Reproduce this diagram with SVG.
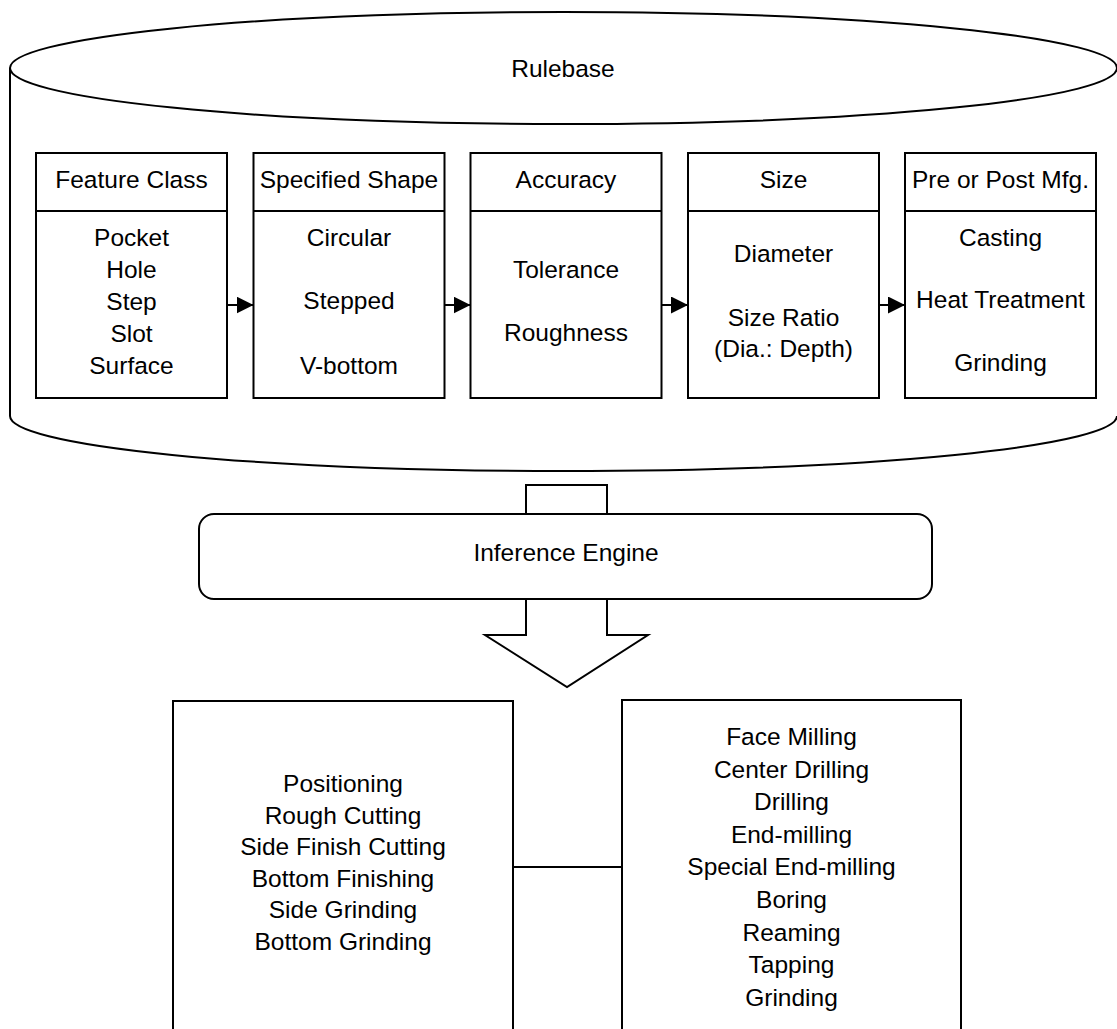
<svg xmlns="http://www.w3.org/2000/svg" width="1117" height="1029" viewBox="0 0 1117 1029">
  <style>
    .ln { fill: none; stroke: #000; stroke-width: 2; }
    .bx { fill: #fff; stroke: #000; stroke-width: 2; }
    text { font-family: "Liberation Sans", Arial, sans-serif; font-size: 24.5px; fill: #000; text-anchor: middle; }
  </style>
  <defs>
    <marker id="tri" viewBox="0 0 17 17" refX="17" refY="8.5" markerWidth="17" markerHeight="17" markerUnits="userSpaceOnUse" orient="auto">
      <path d="M0,0 L17,8.5 L0,17 Z" fill="#000"/>
    </marker>
  </defs>

  <rect width="1117" height="1029" fill="#fff"/>

  <!-- Rulebase cylinder (right side runs off the page edge) -->
  <g id="rulebase">
    <path class="ln" d="M10,68 A553.5,56 0 0 1 1117,68 A553.5,56 0 0 1 10,68 Z"/>
    <path class="ln" d="M10,68 V416 A553.5,55 0 0 0 1117,416"/>
    <text x="563" y="77">Rulebase</text>
  </g>

  <!-- Rule tables -->
  <g id="feature-class">
    <rect class="bx" x="36" y="153" width="191" height="245"/>
    <line class="ln" x1="36" y1="211" x2="227" y2="211"/>
    <text x="131.5" y="188">Feature Class</text>
    <text x="131.5" y="246">Pocket</text>
    <text x="131.5" y="278">Hole</text>
    <text x="131.5" y="310">Step</text>
    <text x="131.5" y="342">Slot</text>
    <text x="131.5" y="374">Surface</text>
  </g>

  <g id="specified-shape">
    <rect class="bx" x="253.5" y="153" width="191" height="245"/>
    <line class="ln" x1="253.5" y1="211" x2="444.5" y2="211"/>
    <text x="349" y="188">Specified Shape</text>
    <text x="349" y="246">Circular</text>
    <text x="349" y="309">Stepped</text>
    <text x="349" y="374">V-bottom</text>
  </g>

  <g id="accuracy">
    <rect class="bx" x="470.5" y="153" width="191" height="245"/>
    <line class="ln" x1="470.5" y1="211" x2="661.5" y2="211"/>
    <text x="566" y="188">Accuracy</text>
    <text x="566" y="278">Tolerance</text>
    <text x="566" y="341">Roughness</text>
  </g>

  <g id="size">
    <rect class="bx" x="688" y="153" width="191" height="245"/>
    <line class="ln" x1="688" y1="211" x2="879" y2="211"/>
    <text x="783.5" y="188">Size</text>
    <text x="783.5" y="262">Diameter</text>
    <text x="783.5" y="326">Size Ratio</text>
    <text x="783.5" y="357">(Dia.: Depth)</text>
  </g>

  <g id="pre-post-mfg">
    <rect class="bx" x="905" y="153" width="191" height="245"/>
    <line class="ln" x1="905" y1="211" x2="1096" y2="211"/>
    <text x="1000.5" y="188">Pre or Post Mfg.</text>
    <text x="1000.5" y="246">Casting</text>
    <text x="1000.5" y="308">Heat Treatment</text>
    <text x="1000.5" y="371">Grinding</text>
  </g>

  <!-- Inference engine with link from the rulebase -->
  <g id="inference-engine">
    <path class="ln" d="M526,514 V485 H607 V514"/>
    <rect class="bx" x="199" y="514" width="733" height="85" rx="15" ry="15"/>
    <text x="566" y="561">Inference Engine</text>
  </g>

  <!-- Output operations -->
  <g id="operations">
    <rect class="bx" x="173" y="701" width="340" height="340"/>
    <text x="343" y="792">Positioning</text>
    <text x="343" y="824">Rough Cutting</text>
    <text x="343" y="855">Side Finish Cutting</text>
    <text x="343" y="887">Bottom Finishing</text>
    <text x="343" y="918">Side Grinding</text>
    <text x="343" y="950">Bottom Grinding</text>
  </g>

  <g id="processes">
    <rect class="bx" x="622" y="700" width="339" height="340"/>
    <text x="791.5" y="745">Face Milling</text>
    <text x="791.5" y="778">Center Drilling</text>
    <text x="791.5" y="810">Drilling</text>
    <text x="791.5" y="843">End-milling</text>
    <text x="791.5" y="875">Special End-milling</text>
    <text x="791.5" y="908">Boring</text>
    <text x="791.5" y="941">Reaming</text>
    <text x="791.5" y="973">Tapping</text>
    <text x="791.5" y="1006">Grinding</text>
  </g>

  <!-- Connectors -->
  <g id="connectors">
    <line class="ln" x1="227" y1="305" x2="253.5" y2="305" marker-end="url(#tri)"/>
    <line class="ln" x1="444.5" y1="305" x2="470.5" y2="305" marker-end="url(#tri)"/>
    <line class="ln" x1="661.5" y1="305" x2="688" y2="305" marker-end="url(#tri)"/>
    <line class="ln" x1="879" y1="305" x2="905" y2="305" marker-end="url(#tri)"/>
    <path class="bx" d="M526,600 V635 H485 L567,687 L648,635 H607 V600"/>
    <line class="ln" x1="513" y1="867" x2="622" y2="867"/>
  </g>
</svg>
